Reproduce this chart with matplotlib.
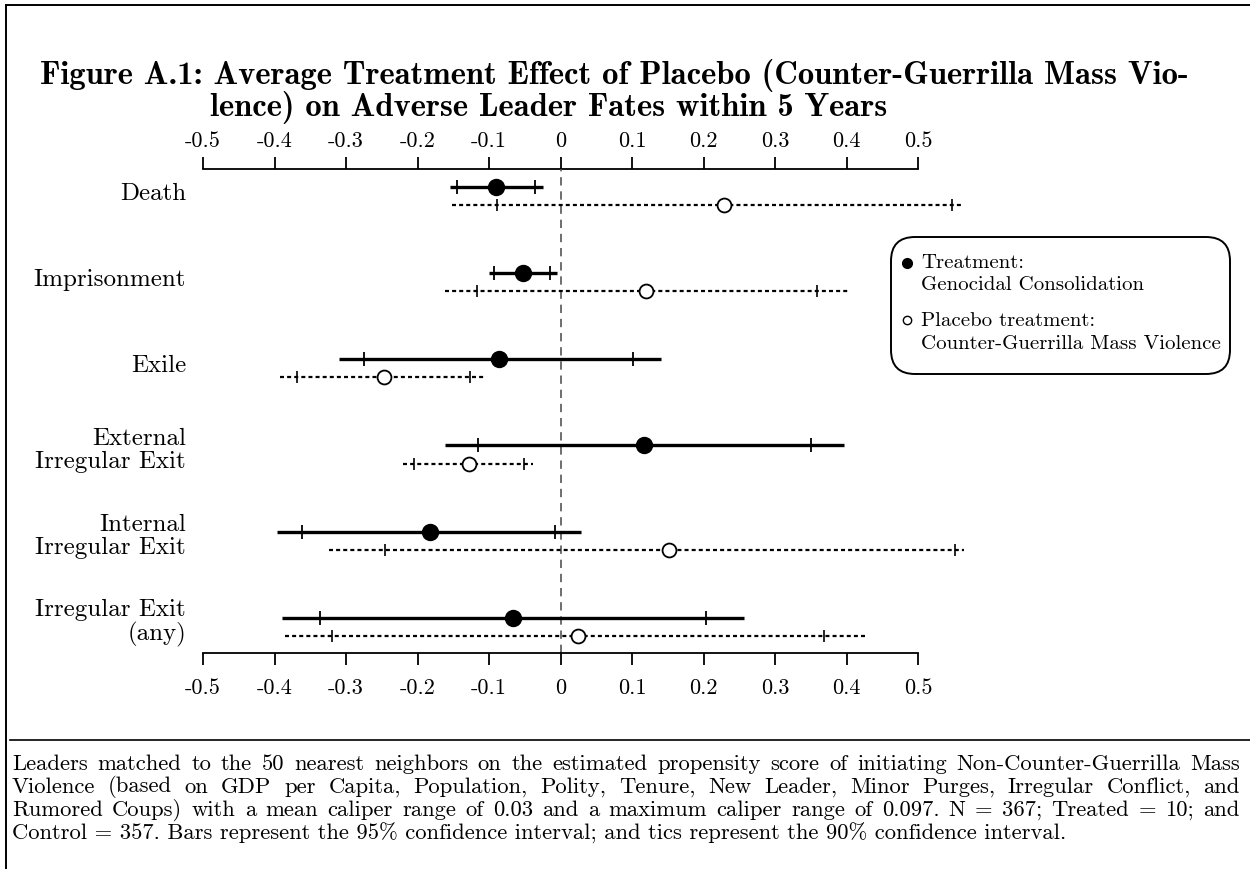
import matplotlib
matplotlib.use('Agg')
import matplotlib.pyplot as plt
from matplotlib.patches import FancyBboxPatch
from matplotlib.lines import Line2D
from matplotlib.transforms import Affine2D, ScaledTranslation
import numpy as np

# data
categories = ['Death', 'Imprisonment', 'Exile', 'External\nIrregular Exit',
              'Internal\nIrregular Exit', 'Irregular Exit\n(any)']
treat_est = [-0.090, -0.053, -0.086, 0.117, -0.183, -0.067]
treat_lo95 = [-0.155, -0.100, -0.310, -0.161, -0.396, -0.390]
treat_hi95 = [-0.024, -0.005, 0.140, 0.396, 0.028, 0.256]
treat_lo90 = [-0.145, -0.093, -0.275, -0.116, -0.361, -0.337]
treat_hi90 = [-0.036, -0.014, 0.102, 0.351, -0.007, 0.203]
plac_est = [0.229, 0.120, -0.247, -0.128, 0.152, 0.024]
plac_lo95 = [-0.152, -0.162, -0.393, -0.220, -0.324, -0.386]
plac_hi95 = [0.560, 0.403, -0.107, -0.038, 0.564, 0.430]
plac_lo90 = [-0.089, -0.117, -0.369, -0.205, -0.246, -0.320]
plac_hi90 = [0.548, 0.359, -0.126, -0.051, 0.552, 0.368]
xticks = [-0.5, -0.4, -0.3, -0.2, -0.1, 0, 0.1, 0.2, 0.3, 0.4, 0.5]
xtick_labels = ['-0.5', '-0.4', '-0.3', '-0.2', '-0.1', '0', '0.1', '0.2', '0.3', '0.4', '0.5']

title1 = 'Figure A.1: Average Treatment Effect of Placebo (Counter-Guerrilla Mass Vio-'
title2 = 'lence) on Adverse Leader Fates within 5 Years'
note = [
    'Leaders matched to the 50 nearest neighbors on the estimated propensity score of initiating Non-Counter-Guerrilla Mass',
    'Violence (based on GDP per Capita, Population, Polity, Tenure, New Leader, Minor Purges, Irregular Conflict, and',
    'Rumored Coups) with a mean caliper range of 0.03 and a maximum caliper range of 0.097. N = 367; Treated = 10; and',
    'Control = 357. Bars represent the 95% confidence interval; and tics represent the 90% confidence interval.',
]

plt.rcParams['font.family'] = 'cmr10'
plt.rcParams['axes.unicode_minus'] = False

W, H = 1250, 869
fig = plt.figure(figsize=(12.5, 8.69), dpi=100)
px = Affine2D().scale(1, -1).translate(0, H)  # pixel coords from top-left
renderer = fig.canvas.get_renderer()

# main axes
ax = fig.add_axes([203 / W, 1 - 653 / H, 715 / W, (653 - 169) / H])
rows = np.arange(len(categories))
off = 0.21
ax.set_xlim(-0.5, 0.5)
ax.set_ylim(len(categories) - 1 + 0.41, -0.21)

ax.axvline(0, color='#555555', lw=1.2, ls=(0, (5, 3.5)), zorder=1)

for i in rows:
    y = i
    ax.plot([treat_lo95[i], treat_hi95[i]], [y, y], color='k', lw=2.4,
            solid_capstyle='butt', clip_on=False, zorder=2)
    ax.plot([treat_lo90[i], treat_hi90[i]], [y, y], ls='none', marker='|',
            ms=10, mew=1.3, color='k', clip_on=False, zorder=3)
    ax.plot([treat_est[i]], [y], 'o', ms=11.5, color='k', clip_on=False, zorder=4)
    y2 = i + off
    ax.plot([plac_lo95[i], plac_hi95[i]], [y2, y2], color='k', lw=1.6,
            ls=(0, (1.8, 1.4)), clip_on=False, zorder=2)
    ax.plot([plac_lo90[i], plac_hi90[i]], [y2, y2], ls='none', marker='|',
            ms=8, mew=1.2, color='k', clip_on=False, zorder=3)
    ax.plot([plac_est[i]], [y2], 'o', ms=10, mfc='white', mec='k', mew=1.3,
            clip_on=False, zorder=4)

# row labels, right aligned left of the axis
for i, lab in enumerate(categories):
    shift = 4 if '\n' in lab else 2
    tr = ax.get_yaxis_transform() + ScaledTranslation(0, shift / 100, fig.dpi_scale_trans)
    ax.text(-17 / 715, i + off / 2, lab, transform=tr, ha='right', va='center',
            fontsize=18, linespacing=1.05)
ax.set_yticks([])

ax.set_xticks(xticks)
ax.set_xticklabels(xtick_labels)
ax.tick_params(axis='x', top=False, labeltop=False, direction='out',
               length=8.6, width=1.3, pad=9.4, labelsize=16)
sec = ax.secondary_xaxis('top')
sec.set_xticks(xticks)
sec.set_xticklabels(xtick_labels)
sec.tick_params(direction='out', length=8.6, width=1.3, pad=4.5, labelsize=16)
sec.spines['top'].set_linewidth(1.3)
for s in ['left', 'right', 'top']:
    ax.spines[s].set_visible(False)
ax.spines['bottom'].set_linewidth(1.3)

# page frame lines
fig.add_artist(Line2D([6, 6], [5, H], transform=px, color='k', lw=1.4))
fig.add_artist(Line2D([6, W], [5, 5], transform=px, color='k', lw=1.4))


def fit_size(text, family, target, base=20):
    t = fig.text(0, 0, text, family=family, fontsize=base)
    w = t.get_window_extent(renderer).width
    t.remove()
    return base * target / w


# title
tsize = fit_size(title1, 'cmb10', 1150)
fig.text(40, 75, title1, transform=px, family='cmb10', fontsize=tsize, va='center')
fig.text(210, 108, title2, transform=px, family='cmb10', fontsize=tsize, va='center')

# legend box
fig.add_artist(FancyBboxPatch((891, 237), 339, 137, transform=px,
                              boxstyle='round,pad=0,rounding_size=24',
                              fc='white', ec='k', lw=1.4))
fig.add_artist(Line2D([907], [263], transform=px, marker='o', ms=7, color='k', ls='none'))
fig.add_artist(Line2D([907], [320], transform=px, marker='o', ms=6, mfc='white',
                      mec='k', mew=1.0, ls='none'))
lsize = 15
for txt, yy in [('Treatment:', 263), ('Genocidal Consolidation', 285),
                ('Placebo treatment:', 321), ('Counter-Guerrilla Mass Violence', 344)]:
    fig.text(921, yy, txt, transform=px, fontsize=lsize, va='center')

# footnote
fig.add_artist(Line2D([10, W], [740, 740], transform=px, color='k', lw=1.2))
nsize = fit_size(note[3], 'cmr10', 1058)
ys = [764, 787, 810, 833]
for k, line in enumerate(note):
    if k == len(note) - 1:
        fig.text(12, ys[k], line, transform=px, fontsize=nsize, va='center')
        continue
    words = line.split(' ')
    ts = [fig.text(12, ys[k], w, transform=px, fontsize=nsize, va='center') for w in words]
    widths = [t.get_window_extent(renderer).width for t in ts]
    gap = (1240 - 12 - sum(widths)) / (len(words) - 1)
    x = 12
    for t, w in zip(ts, widths):
        t.set_x(x)
        x += w + gap

fig.savefig('out.png', dpi=100)
